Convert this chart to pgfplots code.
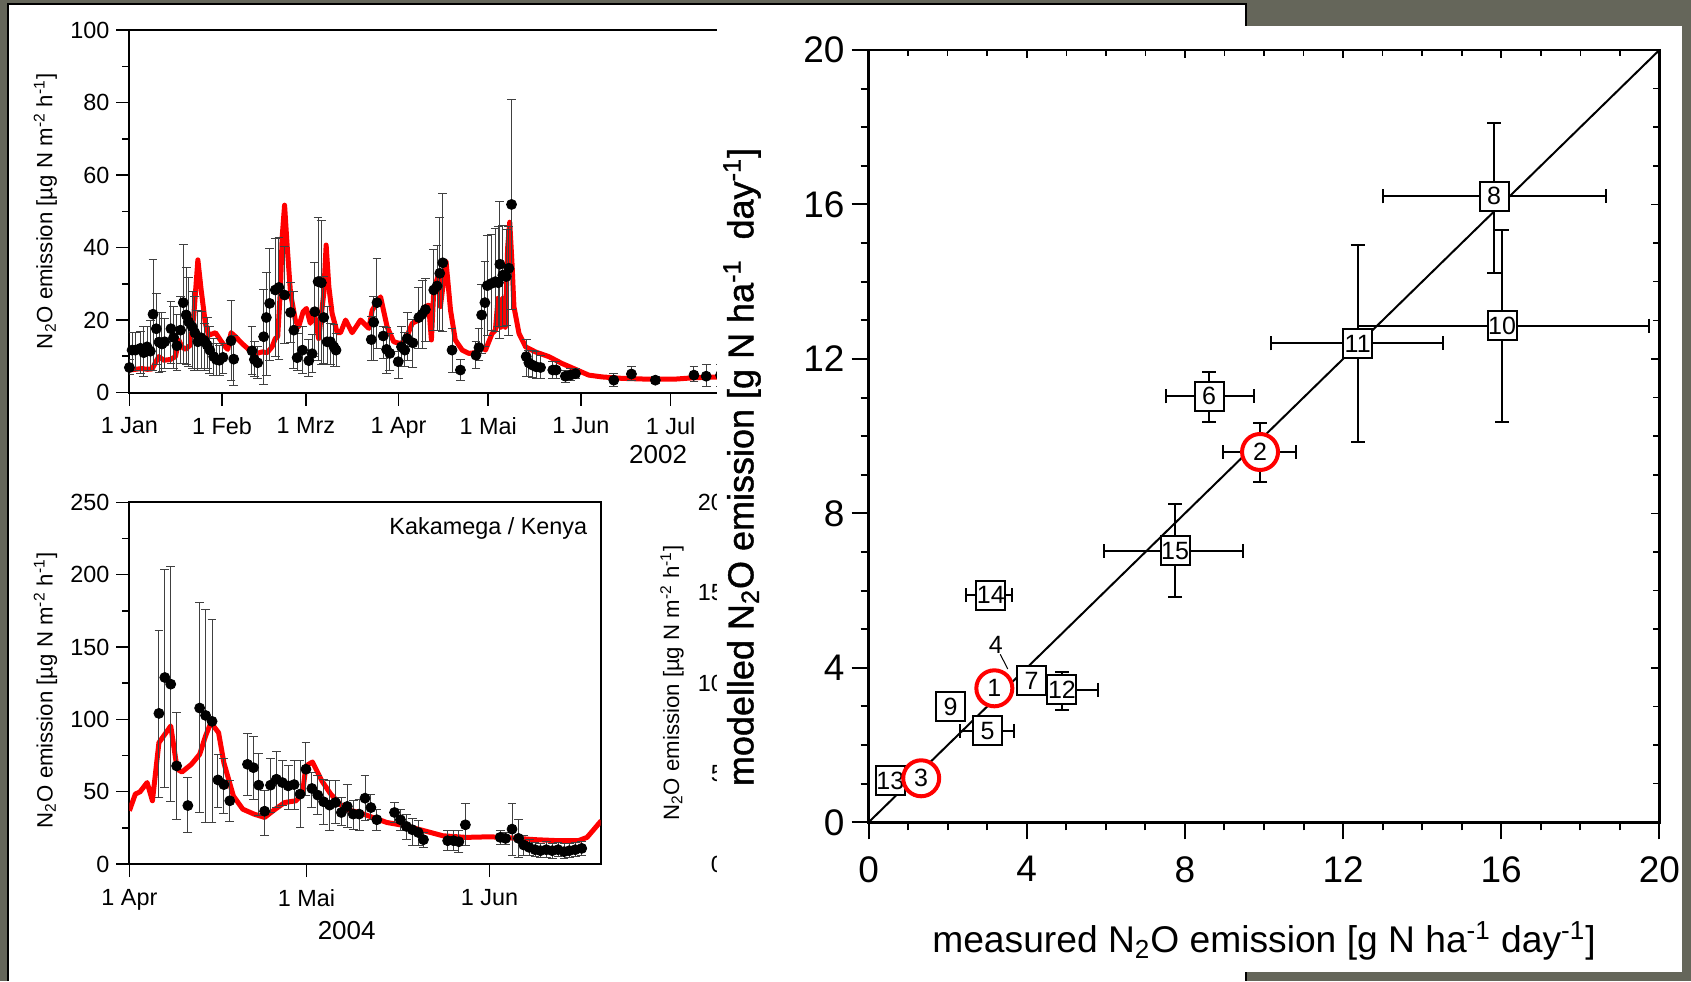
\documentclass[border=0pt]{standalone}
\usepackage{fontspec}
\setmainfont{Liberation Sans}
\newfontfamily\heavyfont[FakeBold=1.2]{Liberation Sans}
\usepackage{pgfplots}
\usepackage{pgfplotstable}
\pgfplotsset{compat=1.18}
\definecolor{bggray}{HTML}{65665A}
\definecolor{modelred}{HTML}{FF0000}

% 2002 series: day of year, mean, upper and lower end of error bar
\pgfplotstableread{
d v hi lo
0 6.9 9.0 5.0
0.9 11.7 16.5 6.2
2.0 11.7 16.5 6.2
3.7 12.2 16.8 5.2
4.8 11.0 18.1 4.3
5.9 12.6 18.1 6.2
7.0 11.4 20.0 6.2
7.9 21.6 36.7 6.2
9.0 17.6 27.2 7.6
9.9 13.9 22.0 5.5
10.9 13.4 22.0 5.7
11.8 14.0 20.3 6.6
13.9 17.6 25.0 8.0
14.8 15.2 23.7 6.6
15.9 12.9 21.4 6.2
17.1 17.2 26.4 8.0
18.0 24.8 40.9 8.0
19.0 21.4 34.4 7.6
19.8 19.5 31.7 7.1
21.0 18.1 27.8 6.6
21.9 16.5 26.4 6.2
22.9 14.0 22.7 6.2
24.0 15.1 22.3 6.6
25.1 14.3 19.1 6.2
26.0 13.1 20.7 6.5
26.9 11.7 18.1 5.2
28.2 9.9 14.9 4.8
29.1 9.1 13.5 4.8
30.1 8.9 13.1 4.8
31.3 9.7 13.4 5.2
34.0 14.3 25.5 3.2
34.9 9.2 15.8 2.0
41.0 11.5 18.1 5.0
41.8 9.1 14.0 4.3
42.9 8.2 12.6 3.9
44.9 15.4 28.3 2.2
45.8 20.7 33.0 4.8
46.9 24.6 39.8 8.9
48.8 28.3 42.5 9.9
50.0 29.0 42.8 9.1
51.9 26.9 40.4 13.5
53.9 22.1 30.3 13.7
55.0 17.2 27.8 6.6
56.1 9.6 16.3 6.2
57.9 11.7 18.1 5.2
60.0 8.8 14.5 4.3
61.1 10.7 16.0 5.5
62.0 22.3 35.8 9.9
63.1 30.6 48.3 8.9
64.2 30.3 47.6 7.6
65.0 20.7 32.1 8.0
66.1 14.0 23.7 7.6
67.2 14.0 19.1 7.6
68.4 12.6 18.8 7.1
69.1 11.7 16.3 7.1
80.9 14.6 20.9 8.7
81.7 19.4 26.6 8.9
82.8 24.8 37.0 12.2
84.9 15.6 18.1 9.4
86.0 11.9 18.0 5.2
87.1 10.8 16.3 6.0
89.9 8.5 11.2 3.9
91.0 12.6 18.3 8.9
92.1 11.7 16.5 7.1
92.9 14.9 22.0 8.9
94.8 13.7 20.2 6.9
96.8 20.7 29.0 12.2
97.9 21.6 31.0 12.2
99.0 22.9 31.5 14.0
101.8 28.3 39.5 17.2
102.9 29.4 40.7 17.2
103.8 32.9 48.3 17.0
104.8 35.8 55.0 16.8
107.9 11.7 17.7 5.4
110.7 6.2 9.1 3.4
115.9 10.3 14.0 6.6
116.9 12.4 17.7 8.9
117.8 21.4 29.9 10.8
118.9 24.8 36.1 12.6
119.7 29.5 43.2 15.8
121.1 30.1 43.5 17.2
122.4 30.6 45.3 16.8
123.4 30.3 45.8 18.1
123.9 35.4 52.7 14.9
124.9 32.4 46.2 18.1
126.0 32.0 45.0 18.5
126.9 34.3 45.9 15.8
127.8 51.9 81.0 22.9
132.7 9.9 14.5 4.5
133.6 8.2 11.7 4.3
134.7 7.6 11.5 4.1
136.0 7.1 11.2 3.9
137.5 6.9 10.3 3.9
141.6 6.2 8.5 3.9
142.7 6.2 8.5 4.0
145.8 4.5 6.2 2.7
147.5 4.8 6.5 3.2
149.2 5.2 6.6 3.9
162.0 3.4 5.2 1.6
167.9 5.1 7.1 3.4
175.9 3.4 4.5 2.5
188.8 4.8 7.1 2.9
192.9 4.5 7.8 1.6
197.7 4.8 7.8 1.6
}\measA

\pgfplotstableread{
d v
0 6.2
2 6.4
4 6.6
6 6.4
7.6 6.5
8.7 8.2
9.8 9.9
11.5 8.9
13.7 9.1
15.4 9.9
16.5 14.5
17.6 12.6
18.7 11.9
20.4 13.1
21.5 20.9
22.9 36.6
24.0 28.3
25.4 19.1
26.5 15.8
28.8 16.5
30.4 14.5
32.1 12.6
32.9 11.9
34.0 16.5
35.5 15.4
37.7 13.5
39.9 11.9
42.7 10.8
44.4 11.2
46.1 11.0
47.7 12.6
48.8 14.9
49.6 15.4
50.5 28.3
51.1 43.0
51.9 51.7
52.7 41.2
53.9 27.3
55.5 20.0
56.6 18.1
58.1 22.3
59.2 23.2
60.5 19.1
61.7 22.7
63.3 14.9
65.0 27.3
65.8 40.7
66.7 29.2
67.8 21.8
69.5 16.5
70.6 16.5
72.3 20.0
74.5 16.5
77.3 20.0
80.1 17.7
81.2 22.7
84.0 26.4
86.2 18.1
88.4 14.0
90.7 13.5
92.3 14.5
94.6 19.1
96.8 20.0
99.0 23.7
100.1 24.1
101.0 14.5
101.8 28.3
103.5 32.9
104.0 23.7
105.9 36.1
107.4 22.7
109.0 14.5
111.3 11.7
113.5 10.8
115.8 11.0
118.0 12.6
119.1 11.7
121.3 16.3
122.4 17.2
123.3 26.0
124.2 18.0
124.9 26.0
125.7 18.0
126.5 40.0
127.2 47.0
128.0 35.0
128.6 23.7
130.3 16.3
132.5 12.6
135.8 11.2
140.3 9.9
144.7 8.0
149.2 6.4
153.6 4.8
158.1 4.3
164.8 3.9
172.6 3.7
182.6 3.7
189.3 4.1
197.7 4.3
212 4.6
}\modA

% 2004 Kakamega: days after 1 Apr
\pgfplotstableread{
d v hi lo
5.0 104.1 161.5 46.0
6.0 128.9 203.8 52.8
7.0 124.3 205.6 43.0
8.0 67.8 105.0 31.0
9.9 40.4 59.7 21.8
11.9 107.8 180.8 35.6
12.9 102.7 176.0 28.7
14.0 98.6 168.9 28.7
15.0 58.1 76.0 39.0
16.0 54.9 72.8 35.0
17.0 43.7 57.4 29.4
20.0 68.9 90.0 47.6
21.0 66.6 88.0 44.8
21.9 54.5 76.3 33.3
22.9 36.5 50.6 20.0
23.9 54.5 72.8 35.6
24.9 58.6 78.0 39.0
25.9 56.3 71.7 40.2
26.9 54.0 67.8 37.9
27.9 54.9 71.7 37.9
28.9 48.3 71.2 25.3
29.9 65.5 83.9 47.1
30.9 52.2 63.2 39.0
31.9 47.6 61.4 34.0
32.9 43.0 58.6 27.1
33.9 40.7 57.9 23.0
34.9 42.5 57.4 28.3
35.9 35.6 46.0 26.4
36.9 39.8 55.1 25.3
37.9 34.5 43.7 23.7
38.9 34.5 44.8 23.0
39.9 45.5 60.9 30.3
40.9 39.0 48.3 31.0
41.9 30.6 37.5 23.0
44.9 35.6 42.5 28.7
45.9 30.6 37.5 23.0
46.9 26.0 34.5 17.2
47.9 23.7 31.5 13.1
48.9 21.8 29.9 13.1
49.8 16.8 21.8 11.5
53.9 16.1 23.0 9.2
54.9 16.1 23.0 9.2
55.8 15.4 23.0 8.0
56.9 27.1 42.0 12.6
62.8 18.4 23.0 13.8
63.7 17.7 21.8 13.8
64.8 24.1 42.0 5.7
65.9 17.7 31.0 4.6
66.8 13.1 19.5 5.7
67.7 11.5 17.2 5.7
68.7 9.9 15.0 5.0
69.6 9.2 14.5 4.5
70.6 9.9 15.5 4.5
71.6 9.2 14.5 4.0
72.6 9.9 15.0 5.0
73.6 8.5 14.0 4.0
74.5 9.2 14.5 4.5
75.5 9.9 15.0 5.0
76.6 10.8 15.5 6.0
}\measB

\pgfplotstableread{
d v
0 36.8
1 48.3
1.8 49.9
3 56.3
3.9 43.7
5 83.9
6 89.6
7 95.4
8.1 65.5
8.9 63.6
10.5 68.9
11.9 75.8
12.9 88.5
13.8 97.7
15.1 90.8
16 70.0
17.6 47.1
19.2 37.9
21.1 34.5
22.9 32.2
24.7 37.9
26.3 42.5
28.2 43.7
29.3 48.3
29.9 67.8
31 70.5
32.6 57.4
34.1 48.3
36.5 37.9
38.9 35.6
41.2 32.2
43.6 28.7
46.8 26.4
49.9 23.0
53.1 19.5
57 18.4
61 18.8
63.3 18.4
65.7 17.7
68.8 16.8
72.8 16.1
76 16.1
77.5 18.4
78.7 24.1
79.9 29.9
}\modB

% measured vs modelled, with error bar ends
\pgfplotstableread{
x y xlo xhi ylo yhi lab
15.82 16.21 13.00 18.64 14.22 18.10 8
16.02 12.86 12.37 19.73 10.36 15.34 10
12.37 12.40 10.18 14.53 9.85 14.96 11
8.61 11.03 7.52 9.74 10.36 11.66 6
7.75 7.03 5.95 9.48 5.84 8.24 15
3.09 5.88 2.47 3.63 5.78 5.98 14
4.12 3.66 4.12 4.12 3.35 3.98 7
4.89 3.43 4.50 5.80 2.91 3.90 12
2.07 2.99 2.07 2.07 2.99 2.99 9
3.01 2.37 2.32 3.68 2.37 2.37 5
0.55 1.08 0.55 0.55 1.08 1.08 13
}\sitesbox

\pgfplotstableread{
x y xlo xhi ylo yhi lab
9.90 9.59 8.96 10.81 8.82 10.34 2
3.18 3.47 3.18 3.18 3.47 3.47 1
1.33 1.14 1.33 1.33 1.14 1.14 3
}\sitescirc

\pgfplotsset{
  tseries/.style={
    scale only axis, anchor=south west, clip mode=individual,
    axis line style={line width=1pt},
    tick align=outside, xtick pos=left, ytick pos=left,
    major tick length=6.5pt, minor tick length=3.5pt,
    every tick/.style={black,line width=0.8pt},
    tick label style={font=\fontsize{11.7}{13}\selectfont},
    xticklabel style={yshift=-2.5pt},
    /pgf/number format/assume math mode=true,
    label style={font=\fontsize{11.1}{12}\selectfont},
    ylabel={N\textsubscript{2}O emission [µg N m\textsuperscript{-2} h\textsuperscript{-1}]},
  },
  meas/.style={only marks, mark=*, mark size=2.5pt, black,
    error bars/.cd, y dir=both, y explicit,
    error bar style={line width=0.5pt,black!75},
    error mark options={rotate=90,mark size=2.2pt,line width=0.5pt,black!75}},
  model/.style={no marks, line width=2.5pt, modelred, line join=round},
}

\begin{document}
\begin{tikzpicture}[x=0.5pt,y=0.5pt]
\useasboundingbox (0,0) rectangle (1691,981);
\fill[bggray] (0,0) rectangle (1691,981);
\fill[white] (8,0) rectangle (1246,977);
\draw[black,line width=1.2pt] (8,0) -- (8,977) -- (1246,977) -- (1246,0);

% 2002 panel
\begin{axis}[tseries, at={(64.7pt,294.25pt)},
  width=316.95pt, height=181.15pt,
  xmin=0, xmax=212, ymin=0, ymax=100,
  xtick={0,31,59,90,120,151,181},
  xticklabels={1 Jan,1 Feb,1 Mrz,1 Apr,1 Mai,1 Jun,1 Jul},
  ytick={0,20,...,100}, minor ytick={10,30,...,90},
  ylabel style={at={(axis description cs:-0.1325,0.5)},anchor=center}]
\addplot[model] table[x=d,y=v] {\modA};
\addplot[meas] table[x=d,y=v,y error plus expr=\thisrow{hi}-\thisrow{v},y error minus expr=\thisrow{v}-\thisrow{lo}] {\measA};
\node[font=\fontsize{13}{14}\selectfont] at (axis cs:176.8,-17.2) {2002};
\end{axis}

% 2004 Kakamega panel
\begin{axis}[tseries, at={(64.7pt,58.5pt)},
  width=235.6pt, height=180.85pt,
  xmin=0, xmax=79.8, ymin=0, ymax=250,
  xtick={0,30,61}, xticklabels={1 Apr,1 Mai,1 Jun},
  ytick={0,50,...,250}, minor ytick={25,75,...,225},
  ylabel style={at={(axis description cs:-0.178,0.48)},anchor=center}]
\addplot[model] table[x=d,y=v] {\modB};
\addplot[meas] table[x=d,y=v,y error plus expr=\thisrow{hi}-\thisrow{v},y error minus expr=\thisrow{v}-\thisrow{lo}] {\measB};
\node[anchor=base east,inner sep=0pt,font=\fontsize{11.7}{13}\selectfont] at (axis cs:77.6,228) {Kakamega / Kenya};
\node[font=\fontsize{13}{14}\selectfont] at (axis cs:36.8,-46.2) {2004};
\end{axis}

% third panel, mostly covered
\begin{axis}[tseries, at={(372pt,58.5pt)},
  width=240pt, height=180.85pt,
  xmin=0, xmax=80, ymin=0, ymax=20,
  xtick={0}, xticklabels={1 Apr},
  ytick={0,5,...,20},
  ylabel style={at={(axis description cs:-0.15,0.5)},anchor=center}]
\end{axis}

\fill[white] (717,9) rectangle (1682,955);

% measured vs modelled
\begin{axis}[at={(434.3pt,79.35pt)}, anchor=south west, scale only axis,
  width=395.4pt, height=386.15pt,
  xmin=0, xmax=20, ymin=0, ymax=20,
  xtick={0,4,...,20}, ytick={0,4,...,20},
  minor x tick num=3, minor y tick num=3,
  tick align=outside, xtick pos=left, ytick pos=left,
  major tick length=8.5pt, minor tick length=4pt,
  every tick/.style={black,line width=1pt},
  axis line style={line width=1.4pt},
  tick label style={font=\fontsize{18.5}{20}\selectfont},
  xticklabel style={yshift=-5pt},
  /pgf/number format/assume math mode=true,
  xlabel={measured N\textsubscript{2}O emission [g N ha\textsuperscript{-1} day\textsuperscript{-1}]},
  ylabel={\heavyfont modelled N\textsubscript{2}O emission [g N ha\textsuperscript{-1}\ \ day\textsuperscript{-1}]},
  xlabel style={at={(axis description cs:0.5,-0.1537)},anchor=center,font=\fontsize{18.6}{20}\selectfont},
  ylabel style={at={(axis description cs:-0.16,0.46)},anchor=center,font=\fontsize{18}{20}\selectfont}]
\addplot[black,line width=1pt] coordinates {(0,0) (20,20)};
\addplot[black,line width=0.5pt] coordinates {(3.33,4.35) (3.52,3.97)};
\addplot[only marks, mark=none, black,
  error bars/.cd, x dir=both, x explicit, y dir=both, y explicit,
  error bar style={line width=1pt,black},
  error mark options={rotate=90,mark size=3.5pt,line width=1pt,black}]
  table[x=x,y=y,
    x error plus expr=\thisrow{xhi}-\thisrow{x}, x error minus expr=\thisrow{x}-\thisrow{xlo},
    y error plus expr=\thisrow{yhi}-\thisrow{y}, y error minus expr=\thisrow{y}-\thisrow{ylo}] {\sitesbox};
\addplot[only marks, mark=none, black,
  error bars/.cd, x dir=both, x explicit, y dir=both, y explicit,
  error bar style={line width=1pt,black},
  error mark options={rotate=90,mark size=3.5pt,line width=1pt,black}]
  table[x=x,y=y,
    x error plus expr=\thisrow{xhi}-\thisrow{x}, x error minus expr=\thisrow{x}-\thisrow{xlo},
    y error plus expr=\thisrow{yhi}-\thisrow{y}, y error minus expr=\thisrow{y}-\thisrow{ylo}] {\sitescirc};
\addplot[only marks, mark=square*, mark size=7.25pt,
  mark options={fill=white,draw=black,line width=1pt},
  nodes near coords, point meta=explicit symbolic,
  every node near coord/.append style={anchor=center,inner sep=0pt,font=\fontsize{12.5}{12.5}\selectfont}]
  table[x=x,y=y,meta=lab] {\sitesbox};
\addplot[only marks, mark=*, mark size=9pt,
  mark options={fill=white,draw=modelred,line width=2pt},
  nodes near coords, point meta=explicit symbolic,
  every node near coord/.append style={anchor=center,inner sep=0pt,font=\fontsize{12.5}{12.5}\selectfont}]
  table[x=x,y=y,meta=lab] {\sitescirc};
\node[font=\fontsize{12.5}{12.5}\selectfont] at (axis cs:3.22,4.6) {4};
\end{axis}

% inward ticks on the top and right of the scatter
\begin{axis}[at={(434.3pt,79.35pt)}, anchor=south west, scale only axis,
  width=395.4pt, height=386.15pt,
  xmin=0, xmax=20, ymin=0, ymax=20,
  xtick={0,4,...,20}, ytick={0,4,...,20},
  minor x tick num=3, minor y tick num=3,
  tick align=inside, xtick pos=right, ytick pos=right,
  major tick length=4pt, minor tick length=3pt,
  every tick/.style={black,line width=0.8pt},
  xticklabels={}, yticklabels={},
  axis line style={draw=none}]
\end{axis}
\end{tikzpicture}
\end{document}
